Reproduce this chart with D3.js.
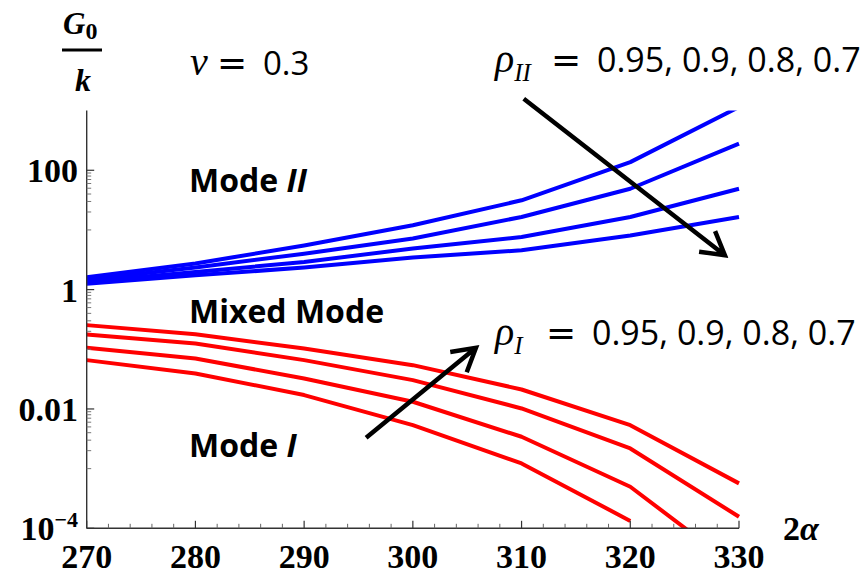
<!DOCTYPE html>
<html>
<head>
<meta charset="utf-8">
<script src="https://cdn.jsdelivr.net/npm/d3@7"></script>
<style>
  body { margin: 0; background: #fff; }
  svg { display: block; }
</style>
</head>
<body>
<div id="chart"></div>
<script>
// datos
const twoAlpha = [270, 280, 290, 300, 310, 320, 330];

// Mode II (azul), de arriba hacia abajo: rho_II = 0.95, 0.9, 0.8, 0.7
const modeII_095 = [1.61, 2.74, 5.5, 12, 31.4, 137, 1150];
const modeII_090 = [1.46, 2.34, 4.0, 7.2, 16.5, 49, 279];
const modeII_080 = [1.35, 1.98, 2.9, 4.9, 7.6, 16.5, 49];
const modeII_070 = [1.25, 1.74, 2.34, 3.44, 4.57, 8.1, 16.5];

// Mode I (rojo), de arriba hacia abajo
const modeI_a = [0.254, 0.179, 0.103, 0.0542, 0.0212, 0.00535, 5.66e-4];
const modeI_b = [0.177, 0.125, 0.0658, 0.0304, 0.0102, 2.18e-3, 1.56e-4];
const modeI_c = [0.106, 0.0702, 0.0324, 0.0132, 3.42e-3, 4.97e-4, 2.08e-5];
const modeI_d = [0.0658, 0.0394, 0.0171, 0.00535, 1.22e-3, 1.33e-4, null];

const xTicks = [270, 280, 290, 300, 310, 320, 330];
const yTicks = [1e-4, 0.01, 1, 100];
const yTickLabels = ["10", "0.01", "1", "100"];

const width = 863, height = 578;
const margin = {top: 110.6, right: 124, bottom: 49.7, left: 86.7};

const svg = d3.select("#chart").append("svg")
    .attr("width", width)
    .attr("height", height);

const x = d3.scaleLinear()
    .domain([270, 330])
    .range([margin.left, width - margin.right]);

const y = d3.scaleLog()
    .domain([1e-4, 1e3])
    .range([height - margin.bottom, margin.top]);

// recorte vertical del area de trazado
svg.append("clipPath").attr("id", "clip")
  .append("rect")
    .attr("x", 0).attr("y", margin.top)
    .attr("width", width)
    .attr("height", height - margin.bottom - margin.top);

const line = d3.line()
    .defined(d => d[1] != null)
    .x(d => x(d[0]))
    .y(d => y(d[1]));

const blueSeries = [modeII_095, modeII_090, modeII_080, modeII_070];
const redSeries = [modeI_a, modeI_b, modeI_c, modeI_d];

const plot = svg.append("g").attr("clip-path", "url(#clip)");

plot.selectAll("path.blue")
    .data(blueSeries)
    .enter().append("path")
    .attr("class", "blue")
    .attr("d", s => line(s.map((v, i) => [twoAlpha[i], v])))
    .attr("fill", "none")
    .attr("stroke", "#0000ff")
    .attr("stroke-width", 4)
    .attr("stroke-linejoin", "round");

plot.selectAll("path.red")
    .data(redSeries)
    .enter().append("path")
    .attr("class", "red")
    .attr("d", s => line(s.map((v, i) => [twoAlpha[i], v])))
    .attr("fill", "none")
    .attr("stroke", "#ff0000")
    .attr("stroke-width", 4)
    .attr("stroke-linejoin", "round");

// ejes
const axisColor = "#333";
const x0 = x(270), y0 = y(1e-4);

svg.append("line")
    .attr("x1", x0).attr("x2", x(330))
    .attr("y1", y0).attr("y2", y0)
    .attr("stroke", axisColor).attr("stroke-width", 1.4);
svg.append("line")
    .attr("x1", x0).attr("x2", x0)
    .attr("y1", y0).attr("y2", y(1e3))
    .attr("stroke", axisColor).attr("stroke-width", 1.4);

// ticks x: mayores cada 10, menores cada 2
const xMinor = d3.range(270, 331, 2).filter(v => v % 10 !== 0);
svg.selectAll("line.xminor")
    .data(xMinor)
    .enter().append("line")
    .attr("x1", d => x(d)).attr("x2", d => x(d))
    .attr("y1", y0).attr("y2", y0 - 4.5)
    .attr("stroke", "#666").attr("stroke-width", 1);
svg.selectAll("line.xmajor")
    .data(xTicks)
    .enter().append("line")
    .attr("x1", d => x(d)).attr("x2", d => x(d))
    .attr("y1", y0).attr("y2", y0 - 7.5)
    .attr("stroke", axisColor).attr("stroke-width", 1.2);

svg.selectAll("text.xlab")
    .data(xTicks)
    .enter().append("text")
    .attr("x", d => x(d))
    .attr("y", 568)
    .attr("text-anchor", "middle")
    .style("font-family", "Liberation Serif, serif")
    .style("font-weight", "bold")
    .style("font-size", "34px")
    .text(d => d);

// ticks y: menores en la decada bajo cada mayor
const yMinor = [];
[2, 0, -2].forEach(e => {
  for (let m = 1; m <= 9; m++) yMinor.push(m * Math.pow(10, e - 1));
});
svg.selectAll("line.yminor")
    .data(yMinor)
    .enter().append("line")
    .attr("x1", x0).attr("x2", x0 + 4.5)
    .attr("y1", d => y(d)).attr("y2", d => y(d))
    .attr("stroke", "#777").attr("stroke-width", 1);
svg.selectAll("line.ymajor")
    .data(yTicks)
    .enter().append("line")
    .attr("x1", x0).attr("x2", x0 + 7.5)
    .attr("y1", d => y(d)).attr("y2", d => y(d))
    .attr("stroke", axisColor).attr("stroke-width", 1.2);

const ylab = svg.selectAll("text.ylab")
    .data(yTicks)
    .enter().append("text")
    .attr("x", 78)
    .attr("y", d => y(d) + 12)
    .attr("text-anchor", "end")
    .style("font-family", "Liberation Serif, serif")
    .style("font-weight", "bold")
    .style("font-size", "34px")
    .text((d, i) => yTickLabels[i]);
ylab.filter(d => d === 1e-4)
  .append("tspan")
    .attr("dy", -13)
    .style("font-size", "22px")
    .text("\u22124");

// titulo del eje y: G0 / k
const serif = "Liberation Serif, serif";
const yTitle = svg.append("text")
    .attr("x", 63).attr("y", 34)
    .style("font-family", serif)
    .style("font-weight", "bold")
    .style("font-size", "31px");
yTitle.append("tspan").style("font-style", "italic").text("G");
yTitle.append("tspan").attr("dy", 5).style("font-size", "24px").text("0");
svg.append("line")
    .attr("x1", 62).attr("x2", 102)
    .attr("y1", 50).attr("y2", 50)
    .attr("stroke", "#000").attr("stroke-width", 3);
svg.append("text")
    .attr("x", 83).attr("y", 91)
    .attr("text-anchor", "middle")
    .style("font-family", serif)
    .style("font-weight", "bold")
    .style("font-style", "italic")
    .style("font-size", "32px")
    .text("k");

// titulo del eje x: 2α
const xTitle = svg.append("text")
    .attr("x", 783).attr("y", 540)
    .style("font-family", serif)
    .style("font-weight", "bold")
    .style("font-size", "34px");
xTitle.append("tspan").text("2");
xTitle.append("tspan").style("font-style", "italic").text("\u03b1");

// etiquetas de texto
const sans = "Open Sans, sans-serif";

function eqLabel(px, baseline, sym, sub, value, valueX, size) {
  const g = svg.append("g");
  const t = g.append("text")
      .attr("x", px).attr("y", baseline)
      .style("font-family", serif)
      .style("font-style", "italic");
  t.append("tspan").style("font-size", "40px").text(sym);
  if (sub) t.append("tspan").attr("dy", 9).style("font-size", "25px").text(sub);
  g.append("text")
      .attr("x", valueX - 46).attr("y", baseline)
      .style("font-family", "DejaVu Sans, sans-serif")
      .style("font-size", "36px")
      .text("=");
  g.append("text")
      .attr("x", valueX).attr("y", baseline)
      .style("font-family", sans)
      .style("font-size", size + "px")
      .text(value);
}

eqLabel(190, 75, "\u03bd", null, "0.3", 263, 33);
eqLabel(495, 72, "\u03c1", "II", "0.95, 0.9, 0.8, 0.7", 597, 34);
eqLabel(495, 345, "\u03c1", "I", "0.95, 0.9, 0.8, 0.7", 592, 34);

function modeLabel(baseline, parts) {
  const t = svg.append("text")
      .attr("x", 189).attr("y", baseline)
      .style("font-family", sans)
      .style("font-weight", "bold")
      .style("font-size", "32px");
  parts.forEach(p => t.append("tspan")
      .style("font-style", p.italic ? "italic" : "normal")
      .text(p.text));
}
modeLabel(192, [{text: "Mode "}, {text: "II", italic: true}]);
modeLabel(323, [{text: "Mixed Mode"}]);
modeLabel(457, [{text: "Mode "}, {text: "I", italic: true}]);

// flechas
function arrow(from, to) {
  const p0 = [x(from[0]), y(from[1])];
  const p1 = [x(to[0]), y(to[1])];
  const ang = Math.atan2(p1[1] - p0[1], p1[0] - p0[0]);
  const len = 26, spread = Math.PI / 6;
  const b1 = [p1[0] - len * Math.cos(ang - spread), p1[1] - len * Math.sin(ang - spread)];
  const b2 = [p1[0] - len * Math.cos(ang + spread), p1[1] - len * Math.sin(ang + spread)];
  svg.append("path")
      .attr("d", d3.line()([p0, p1]) + d3.line()([b1, p1, b2]))
      .attr("fill", "none")
      .attr("stroke", "#000")
      .attr("stroke-width", 4.5)
      .attr("stroke-linejoin", "miter");
}
arrow([310.2, 1580], [328.7, 3.77]);
arrow([295.7, 3.29e-3], [305.8, 0.1057]);
</script>
</body>
</html>
